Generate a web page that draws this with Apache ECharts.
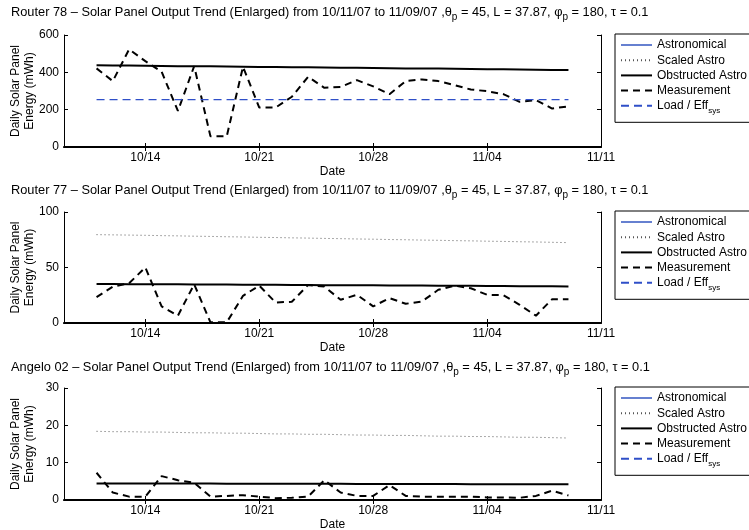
<!DOCTYPE html>
<html><head><meta charset="utf-8">
<script src="https://cdn.jsdelivr.net/npm/echarts@6/dist/echarts.min.js"></script>
<style>html,body{margin:0;padding:0;background:#fff}#c{width:749px;height:530px}</style>
</head><body><div id="c"></div><script>
// Day numbers counted from October (Oct 11 = 11 ... Nov 9 = 40)
const days = [11,12,13,14,15,16,17,18,19,20,21,22,23,24,25,26,27,28,29,30,31,32,33,34,35,36,37,38,39,40];
const tickDays = [14,21,28,35,42];
const tickLabels = ['10/14','10/21','10/28','11/04','11/11'];
const titles = ['Router 78', 'Router 77', 'Angelo 02'];
const seriesNames = ['Astronomical','Scaled Astro','Obstructed Astro','Measurement','Load / Eff'];
const yMax = [600, 100, 30];
const yStep = [200, 50, 10];

// Router 78
const r78Obstructed = [438,437,436,435,434,433,433,432,431,430,429,428,427,427,426,425,424,423,422,421,421,420,419,418,417,416,415,414,413,412];
const r78Measurement = [421,353,523,460,403,193,433,57,57,430,211,211,269,376,317,322,358,325,283,353,362,353,331,308,299,283,242,251,206,218];
const r78Load = [254,254,254,254,254,254,254,254,254,254,254,254,254,254,254,254,254,254,254,254,254,254,254,254,254,254,254,254,254,254];
// Router 77
const r77Scaled = [79.6,79.4,79.2,79.0,78.7,78.5,78.2,78.0,77.7,77.5,77.2,77.0,76.7,76.5,76.2,76.0,75.7,75.5,75.2,75.0,74.7,74.5,74.2,74.0,73.7,73.5,73.2,73.0,72.7,72.4];
const r77Obstructed = [35.2,35.1,35.0,35.0,34.9,34.8,34.7,34.7,34.6,34.5,34.4,34.4,34.3,34.2,34.1,34.1,34.0,33.9,33.8,33.8,33.7,33.6,33.5,33.5,33.4,33.3,33.2,33.1,33.0,32.9];
const r77Measurement = [23.3,32.8,35.8,50.1,14.9,6.6,34.9,0.6,0.6,24.5,33.7,18.5,19.1,34.3,32.8,20.9,25.4,15.0,22.4,17.3,19.4,29.9,33.7,31.3,25.4,25.1,16.4,6.6,21.5,21.5];
// Angelo 02
const a02Scaled = [18.4,18.3,18.3,18.2,18.2,18.1,18.0,18.0,17.9,17.9,17.8,17.7,17.7,17.6,17.6,17.5,17.4,17.4,17.3,17.3,17.2,17.1,17.1,17.0,17.0,16.9,16.8,16.8,16.7,16.6];
const a02Obstructed = [4.45,4.44,4.43,4.42,4.41,4.41,4.40,4.39,4.38,4.37,4.36,4.35,4.34,4.34,4.33,4.32,4.31,4.30,4.29,4.28,4.28,4.27,4.26,4.25,4.24,4.23,4.22,4.22,4.21,4.20];
const a02Measurement = [7.3,2.0,0.9,0.9,6.4,5.3,4.6,0.9,1.1,1.3,0.9,0.5,0.6,0.9,5.3,2.0,1.1,1.1,4.0,1.1,0.9,0.9,0.9,0.9,0.7,0.7,0.6,1.1,2.5,1.2];

const panels = [
  {astro: [], scaled: [], obstructed: r78Obstructed, meas: r78Measurement, load: r78Load},
  {astro: [], scaled: r77Scaled, obstructed: r77Obstructed, meas: r77Measurement, load: []},
  {astro: [], scaled: a02Scaled, obstructed: a02Obstructed, meas: a02Measurement, load: []}
];

const FONT = 'Liberation Sans, Arial, Helvetica, sans-serif';
const gridTops = [35, 212, 388];
const gridH = [112, 111, 112];
const titleTops = [-3, 175, 352];

const pair = arr => arr.map((v, i) => [days[i], v]);

const option = {
  animation: false,
  backgroundColor: '#fff',
  textStyle: {fontFamily: FONT},
  title: [], grid: [], xAxis: [], yAxis: [], legend: [], series: []
};

panels.forEach((p, k) => {
  option.title.push({
    left: 6, top: titleTops[k],
    text: '{n|' + titles[k] + ' \u2013 Solar Panel Output Trend (Enlarged) from 10/11/07 to 11/09/07 ,\u03b8}{s|p}{n| = 45, L = 37.87, \u03c6}{s|p}{n| = 180, \u03c4 = 0.1}',
    textStyle: {
      fontFamily: FONT, fontWeight: 'normal', color: '#000',
      rich: {
        n: {fontSize: 12.8, fontFamily: FONT, color: '#000'},
        s: {fontSize: 10, fontFamily: FONT, color: '#000', padding: [10, 0, 0, 0]}
      }
    }
  });
  option.grid.push({left: 64, top: gridTops[k], width: 537, height: gridH[k], show: false, outerBoundsMode: 'none', containLabel: false});
  const axisLine = {show: true, lineStyle: {color: '#000', width: 1}};
  option.xAxis.push({
    type: 'value', gridIndex: k, min: 9, max: 42, position: 'bottom',
    name: 'Date', nameLocation: 'middle', nameGap: 19, nameMoveOverlap: false,
    nameTextStyle: {fontSize: 12, color: '#000', fontFamily: FONT},
    axisLine: {show: true, onZero: false, lineStyle: {color: '#000', width: 2}},
    axisTick: {show: true, inside: true, length: 4, customValues: tickDays, lineStyle: {color: '#000'}},
    axisLabel: {show: true, customValues: tickDays, fontSize: 12, color: '#000', margin: 5, fontFamily: FONT,
      formatter: v => tickLabels[tickDays.indexOf(v)] || ''},
    splitLine: {show: false}
  });
  option.xAxis.push({
    type: 'value', gridIndex: k, min: 9, max: 42, position: 'top',
    axisLine: axisLine,
    axisTick: {show: true, inside: true, length: 4, customValues: tickDays.slice(0, 4), lineStyle: {color: '#000'}},
    axisLabel: {show: false}, splitLine: {show: false}
  });
  option.yAxis.push({
    type: 'value', gridIndex: k, min: 0, max: yMax[k], interval: yStep[k], position: 'left',
    name: 'Daily Solar Panel\nEnergy (mWh)', nameLocation: 'middle', nameGap: 27, nameRotate: 90, nameMoveOverlap: false,
    nameTextStyle: {fontSize: 12, color: '#000', fontFamily: FONT, lineHeight: 14},
    axisLine: axisLine,
    axisTick: {show: true, inside: true, length: 4, lineStyle: {color: '#000'}},
    axisLabel: {fontSize: 12, color: '#000', margin: 5, fontFamily: FONT},
    splitLine: {show: false}
  });
  option.yAxis.push({
    type: 'value', gridIndex: k, min: 0, max: yMax[k], interval: yStep[k], position: 'right',
    axisLine: axisLine,
    axisTick: {show: true, inside: true, length: 4, lineStyle: {color: '#000'}},
    axisLabel: {show: false}, splitLine: {show: false}
  });
  option.legend.push({
    orient: 'vertical', left: 615, top: gridTops[k] - 1,
    data: seriesNames,
    itemWidth: 31, itemHeight: 10, itemGap: 3.2,
    padding: [5, 12, 8, 5],
    borderColor: '#000', borderWidth: 1, backgroundColor: '#fff',
    selectedMode: false,
    itemStyle: {color: 'rgba(0,0,0,0)', borderWidth: 0, opacity: 0},
    textStyle: {fontSize: 12, color: '#000', fontFamily: FONT,
      rich: {
        t: {fontSize: 12, color: '#000', fontFamily: FONT, lineHeight: 12},
        s: {fontSize: 8, color: '#000', fontFamily: FONT, padding: [9, 0, 0, 0]}
      }},
    formatter: n => n === 'Load / Eff' ? '{t|Load / Eff}{s|sys}' : '{t|' + n + '}'
  });
  const xi = k * 2, yi = k * 2;
  const base = {type: 'line', xAxisIndex: xi, yAxisIndex: yi, symbol: 'none', showSymbol: false, silent: true, clip: true};
  option.series.push(Object.assign({}, base, {name: 'Astronomical', data: pair(p.astro),
    lineStyle: {color: '#6680d0', width: 1, type: 'solid'}, itemStyle: {color: '#6680d0'}}));
  option.series.push(Object.assign({}, base, {name: 'Scaled Astro', data: pair(p.scaled),
    lineStyle: {color: '#555', width: 1, type: [1, 3]}, itemStyle: {color: '#555'}}));
  option.series.push(Object.assign({}, base, {name: 'Obstructed Astro', data: pair(p.obstructed),
    lineStyle: {color: '#000', width: 2, type: 'solid'}, itemStyle: {color: '#000'}}));
  option.series.push(Object.assign({}, base, {name: 'Measurement', data: pair(p.meas),
    lineStyle: {color: '#000', width: 2, type: [7, 5]}, itemStyle: {color: '#000'}}));
  option.series.push(Object.assign({}, base, {name: 'Load / Eff', data: pair(p.load),
    lineStyle: {color: '#2f4fc8', width: 1.2, type: [8, 5]}, itemStyle: {color: '#2f4fc8'}}));
});

const chart = echarts.init(document.getElementById('c'), null, {renderer: 'canvas'});
chart.setOption(option);
</script></body></html>
